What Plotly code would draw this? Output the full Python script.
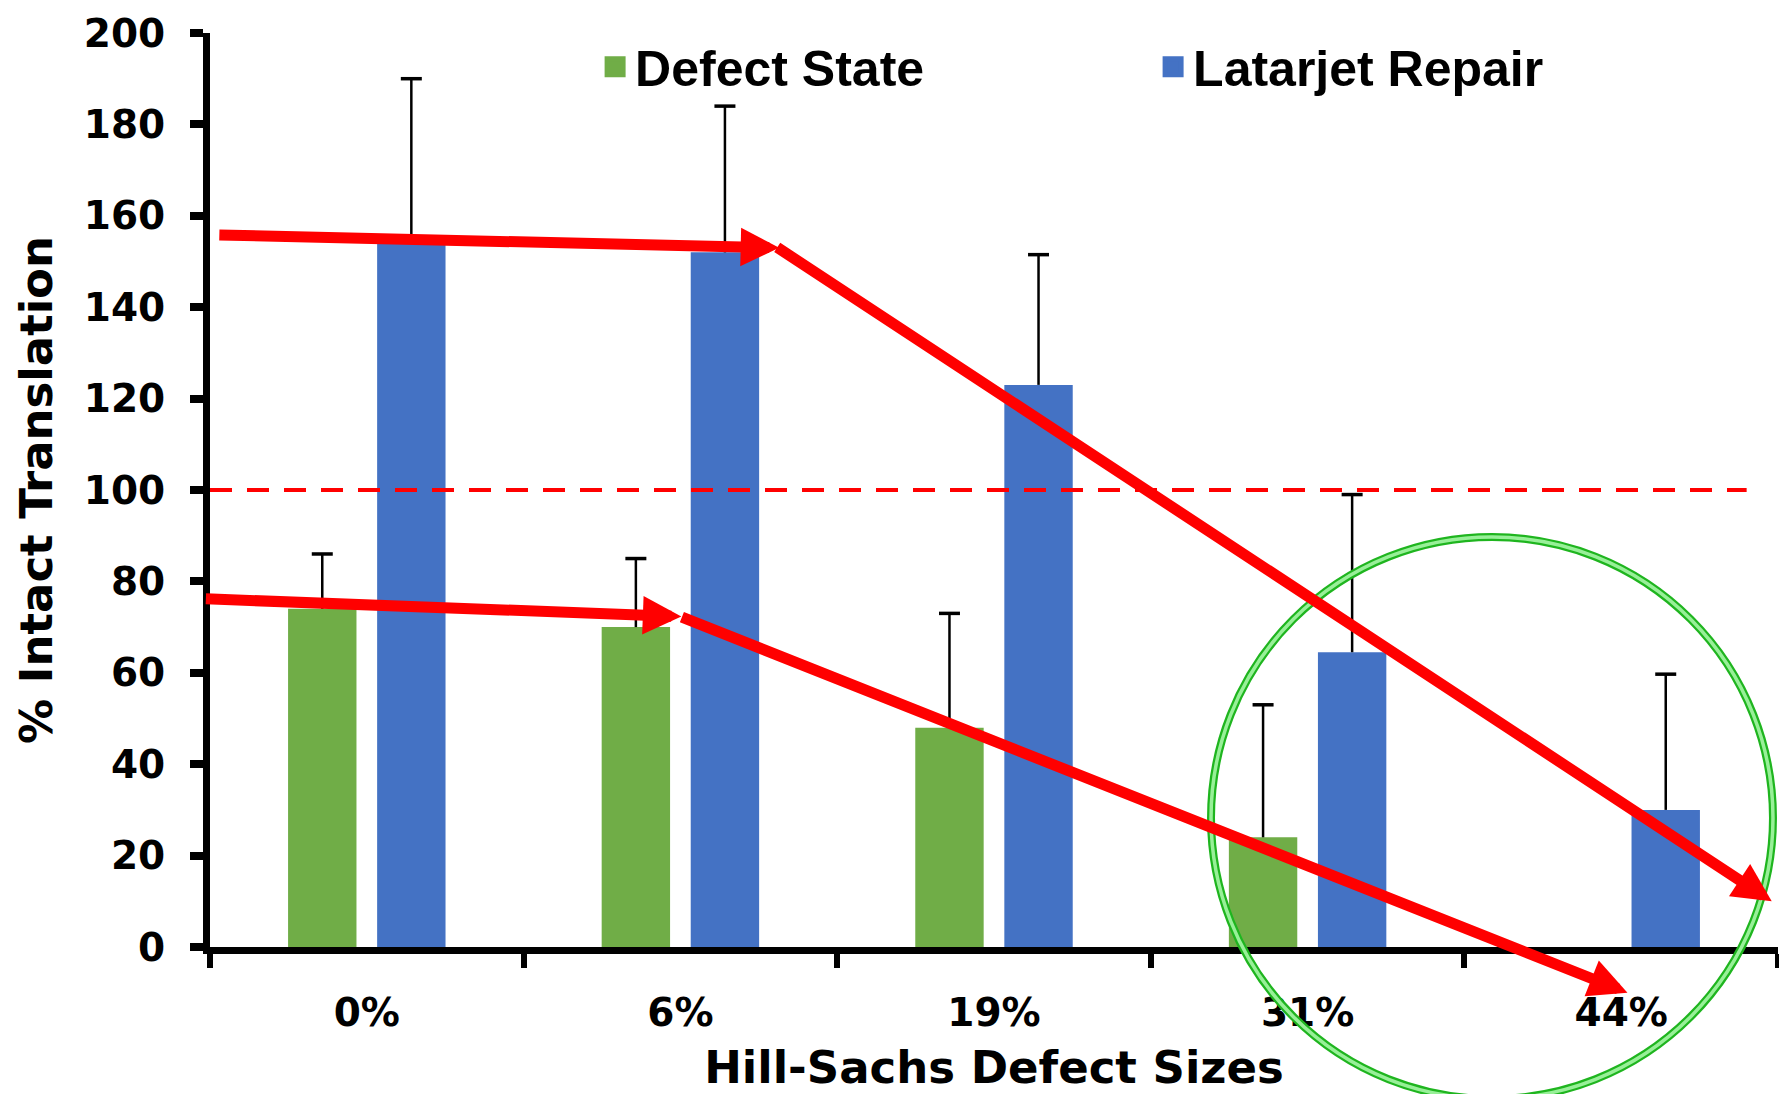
import plotly.graph_objects as go

# ---------------- data ----------------
categories = ["0%", "6%", "19%", "31%", "44%"]
defect_state = [74, 70, 48, 24, None]
defect_state_err = [12, 15, 25, 29, None]
latarjet_repair = [154, 152, 123, 64.5, 30]
latarjet_repair_err = [36, 32, 28.5, 34.5, 29.7]
y_ticks = [0, 20, 40, 60, 80, 100, 120, 140, 160, 180, 200]
intact_reference = 100

# ---------------- style ----------------
GREEN = "#70AD47"
BLUE = "#4472C4"
RED = "#FF0000"
BARGAP = 0.432
BARGROUPGAP = 0.232
TICK_FONT = dict(family="DejaVu Sans", size=39, color="black", weight="bold")
TITLE_FONT = dict(family="DejaVu Sans", size=45, color="black", weight="bold")
LEGEND_FONT = dict(family="Liberation Sans", size=50, color="black", weight="bold")

pos = list(range(len(categories)))
half_slot = (1 - BARGAP) / 4  # centre offset of each bar in its group

fig = go.Figure()
fig.add_trace(go.Bar(x=pos, y=defect_state, name="Defect State",
                     marker=dict(color=GREEN, line=dict(width=0)), showlegend=False))
fig.add_trace(go.Bar(x=pos, y=latarjet_repair, name="Latarjet Repair",
                     marker=dict(color=BLUE, line=dict(width=0)), showlegend=False))


def add_error_bars(vals, errs, shift):
    xs, ys, cx, cy = [], [], [], []
    for p, v, e in zip(pos, vals, errs):
        if v is None or e is None:
            continue
        xs += [p + shift, p + shift, None]
        ys += [v, v + e, None]
        cx.append(p + shift)
        cy.append(v + e)
    fig.add_trace(go.Scatter(x=xs, y=ys, mode="lines", line=dict(color="black", width=2.5),
                             showlegend=False, hoverinfo="skip"))
    fig.add_trace(go.Scatter(x=cx, y=cy, mode="markers",
                             marker=dict(symbol="line-ew", size=15,
                                         line=dict(color="black", width=3.5)),
                             showlegend=False, hoverinfo="skip"))


add_error_bars(defect_state, defect_state_err, -half_slot)
add_error_bars(latarjet_repair, latarjet_repair_err, half_slot)

# legend entries (large square swatches)
for nm, col in [("Defect State", GREEN), ("Latarjet Repair", BLUE)]:
    fig.add_trace(go.Scatter(x=[None], y=[None], mode="markers", name=nm,
                             marker=dict(symbol="square", size=16, color=col,
                                         line=dict(color=col, width=5))))

# reference line at 100 %
fig.add_shape(type="line", xref="x", yref="y", x0=-0.5, x1=4.40,
              y0=intact_reference, y1=intact_reference,
              line=dict(color=RED, width=4, dash="22px,15px"), layer="above")

# green highlight circle
fig.add_shape(type="circle", xref="paper", yref="paper",
              x0=0.6384, x1=0.9968, y0=-0.1663, y1=0.4486,
              line=dict(color="#1FB51F", width=8), layer="above")
fig.add_shape(type="circle", xref="paper", yref="paper",
              x0=0.6384, x1=0.9968, y0=-0.1663, y1=0.4486,
              line=dict(color="#98F098", width=3.5), layer="above")

# red trend arrows (tail -> head, data coordinates)
arrows = [
    ((-0.475, 155.8), (1.315, 153.0)),
    ((1.304, 153.3), (4.48, 10.0)),
    ((-0.518, 76.2), (1.003, 72.3)),
    ((1.0, 72.3), (4.02, -10.0)),
]
for (tx, ty), (hx, hy) in arrows:
    fig.add_annotation(x=hx, y=hy, ax=tx, ay=ty, xref="x", yref="y", axref="x", ayref="y",
                       text="", showarrow=True, arrowhead=2, arrowsize=0.7,
                       arrowwidth=11, arrowcolor=RED)

fig.update_layout(
    width=1779, height=1086,
    margin=dict(l=202, r=9, t=25, b=147, autoexpand=False),
    paper_bgcolor="white", plot_bgcolor="white",
    barmode="group", bargap=BARGAP, bargroupgap=BARGROUPGAP,
    legend=dict(orientation="h", x=0.2456, xanchor="left", y=0.9632, yanchor="middle",
                font=LEGEND_FONT, entrywidth=513, entrywidthmode="pixels",
                bgcolor="rgba(0,0,0,0)", itemclick=False),
    xaxis=dict(range=[-0.5, 4.5], tickmode="array", tickvals=pos, ticktext=categories,
               ticks="", showline=True, linewidth=7, linecolor="black",
               showgrid=False, zeroline=False, tickfont=TICK_FONT, ticklabelstandoff=25,
               ticklabeloverflow="allow",
               minor=dict(tickmode="array", tickvals=[p - 0.5 for p in pos] + [pos[-1] + 0.5],
                          ticks="outside", ticklen=14, tickwidth=6, tickcolor="black",
                          showgrid=False),
               title=dict(text="Hill-Sachs Defect Sizes", font=TITLE_FONT, standoff=27)),
    yaxis=dict(range=[0, 200], tickmode="array", tickvals=y_ticks,
               ticks="outside", ticklen=13, tickwidth=8, tickcolor="black",
               showline=True, linewidth=7, linecolor="black",
               showgrid=False, zeroline=False, tickfont=TICK_FONT, ticklabelstandoff=17,
               ticklabeloverflow="allow",
               title=dict(text="% Intact Translation", font=TITLE_FONT, standoff=20)),
)

fig.write_html("out.html")
